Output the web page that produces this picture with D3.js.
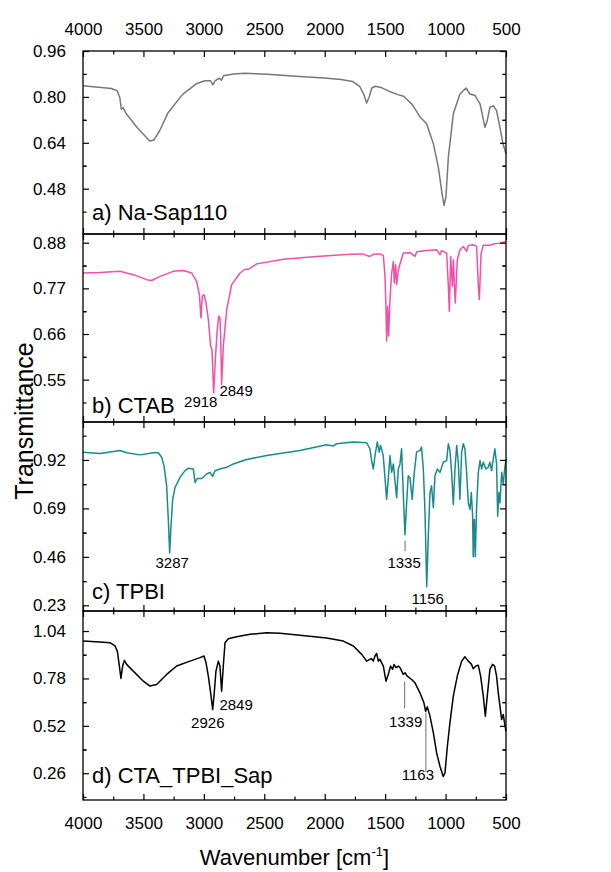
<!DOCTYPE html>
<html>
<head>
<meta charset="utf-8">
<script src="https://cdn.jsdelivr.net/npm/d3@7"></script>
<style>
  body { margin: 0; background: #fff; }
  text { font-family: Arial, "Liberation Sans", sans-serif; fill: #000; }
</style>
</head>
<body>
<svg id="chart" width="611" height="872"></svg>
<script>
// ---- data ----
const xTicks = [4000, 3500, 3000, 2500, 2000, 1500, 1000, 500];

// a) Na-Sap110
const naSapWn = [4000,3765,3718,3695,3683,3667,3648,3554,3448,3413,3366,3296,3178,3061,2991,2944,2925,2908,2873,2854,2838,2756,2662,2474,2239,2005,1864,1770,1711,1676,1653,1634,1610,1582,1535,1465,1394,1347,1277,1207,1157,1101,1060,1033,1013,997,977,936,881,831,798,757,715,674,655,633,605,578,550,528,500];
const naSapT  = [0.839,0.829,0.822,0.797,0.757,0.762,0.745,0.694,0.646,0.650,0.682,0.745,0.808,0.846,0.856,0.856,0.842,0.856,0.865,0.858,0.874,0.880,0.882,0.879,0.872,0.866,0.861,0.854,0.837,0.808,0.779,0.797,0.831,0.837,0.833,0.819,0.808,0.802,0.774,0.728,0.706,0.637,0.555,0.474,0.422,0.451,0.590,0.741,0.810,0.831,0.810,0.805,0.776,0.694,0.718,0.764,0.769,0.752,0.694,0.642,0.602];

// b) CTAB
const ctabWn = [4000,3859,3694,3584,3473,3432,3363,3253,3170,3101,3060,3037,3024,3013,2999,2982,2963,2944,2933,2919,2905,2889,2878,2867,2861,2853,2839,2811,2770,2701,2660,2632,2563,2343,2067,1791,1681,1653,1626,1598,1543,1515,1501,1493,1488,1479,1471,1460,1446,1432,1424,1413,1405,1391,1350,1295,1253,1239,1157,1074,1046,1033,991,977,969,958,944,936,920,903,881,853,826,812,771,743,729,721,706,688,633,605,550,500];
const ctabT  = [0.807,0.808,0.811,0.803,0.791,0.789,0.799,0.811,0.813,0.807,0.787,0.755,0.699,0.751,0.755,0.735,0.695,0.631,0.622,0.518,0.599,0.671,0.703,0.699,0.655,0.538,0.631,0.719,0.779,0.807,0.816,0.816,0.829,0.840,0.847,0.852,0.853,0.849,0.847,0.852,0.853,0.849,0.799,0.719,0.643,0.727,0.655,0.743,0.807,0.835,0.783,0.827,0.779,0.815,0.855,0.856,0.847,0.858,0.861,0.863,0.851,0.861,0.855,0.775,0.715,0.847,0.775,0.839,0.735,0.839,0.863,0.871,0.859,0.873,0.875,0.871,0.775,0.743,0.855,0.874,0.874,0.877,0.879,0.883];

// c) TPBI
const tpbiWn = [4000,3859,3749,3694,3639,3528,3418,3377,3349,3330,3308,3294,3283,3272,3258,3239,3197,3156,3129,3087,3073,3054,3018,2977,2949,2927,2908,2867,2811,2756,2646,2480,2205,1984,1929,1901,1763,1653,1626,1612,1598,1584,1565,1549,1538,1516,1496,1488,1474,1460,1446,1432,1405,1391,1377,1364,1350,1336,1322,1309,1295,1276,1259,1240,1212,1199,1184,1170,1156,1143,1129,1116,1101,1088,1068,1046,1019,991,977,964,950,936,922,908,895,881,867,853,840,826,812,798,787,776,771,762,754,743,729,715,702,688,666,647,633,619,605,592,578,569,558,550,536,523,514,500];
const tpbiT  = [0.957,0.950,0.960,0.965,0.954,0.944,0.954,0.954,0.933,0.893,0.797,0.637,0.478,0.605,0.733,0.789,0.837,0.869,0.880,0.877,0.813,0.832,0.832,0.853,0.861,0.842,0.869,0.877,0.885,0.901,0.922,0.941,0.965,0.992,0.986,0.997,1.005,1.001,0.973,0.917,0.877,0.941,1.005,0.957,0.989,0.941,0.797,0.733,0.829,0.941,0.861,0.901,0.741,0.877,0.901,0.973,0.765,0.565,0.717,0.845,0.837,0.733,0.861,0.957,0.965,0.981,0.877,0.669,0.318,0.557,0.765,0.797,0.693,0.845,0.877,0.861,0.909,0.917,0.997,0.965,0.861,0.709,0.877,0.989,0.909,0.733,0.957,0.997,0.973,0.861,0.717,0.685,0.765,0.653,0.461,0.637,0.461,0.701,0.861,0.917,0.877,0.909,0.877,0.885,0.909,0.869,0.925,0.973,0.901,0.653,0.765,0.717,0.861,0.805,0.861,0.925];

// d) CTA_TPBI_Sap
const ctaSapWn = [4000,3859,3777,3735,3716,3699,3686,3672,3658,3639,3584,3501,3446,3391,3308,3225,3115,3032,2999,2982,2963,2944,2927,2914,2900,2880,2867,2853,2839,2825,2798,2729,2618,2480,2370,2205,1984,1846,1763,1694,1653,1626,1612,1598,1584,1570,1557,1543,1515,1493,1474,1455,1438,1427,1410,1391,1377,1350,1336,1317,1281,1253,1212,1179,1165,1151,1129,1101,1074,1046,1019,1005,985,964,936,903,867,840,812,785,771,749,729,710,688,671,655,633,611,594,578,564,550,536,523,512,500];
const ctaSapT  = [0.985,0.980,0.976,0.958,0.930,0.848,0.780,0.848,0.879,0.857,0.820,0.765,0.738,0.747,0.802,0.848,0.875,0.894,0.903,0.866,0.793,0.701,0.609,0.701,0.820,0.875,0.848,0.710,0.848,0.976,0.998,1.009,1.022,1.031,1.028,1.017,1.002,0.985,0.958,0.912,0.875,0.885,0.888,0.875,0.903,0.918,0.875,0.885,0.848,0.765,0.802,0.848,0.830,0.857,0.839,0.848,0.839,0.802,0.811,0.793,0.774,0.756,0.701,0.646,0.600,0.624,0.573,0.481,0.371,0.297,0.242,0.261,0.408,0.536,0.683,0.793,0.875,0.899,0.875,0.857,0.833,0.848,0.852,0.793,0.683,0.573,0.683,0.830,0.857,0.848,0.793,0.701,0.628,0.554,0.582,0.536,0.490];

// peak labels: wavenumber, text baseline (transmittance), x shift, optional leader line [from,to]
const ctabPeaks   = [{wn:2918, ty:0.483, dx:-13}, {wn:2849, ty:0.510, dx:14}];
const tpbiPeaks   = [{wn:3287, ty:0.407, dx:3}, {wn:1335, ty:0.405, dx:-1, line:[0.538,0.486]}, {wn:1156, ty:0.235, dx:1}];
const ctaSapPeaks = [{wn:2926, ty:0.510, dx:-5}, {wn:2849, ty:0.609, dx:14}, {wn:1339, ty:0.516, dx:1, line:[0.763,0.615]}, {wn:1163, ty:0.224, dx:-8, line:[0.593,0.268]}];

// ---- layout ----
const left = 83, right = 506;

const panels = [
  {label:'a) Na-Sap110',     wn:naSapWn,  t:naSapT,  color:'#787878', top:51,  bottom:234, domain:[0.322,0.96], ticks:[0.48,0.64,0.80,0.96], step:0.16, labelUp:14, peaks:[]},
  {label:'b) CTAB',          wn:ctabWn,   t:ctabT,   color:'#f050a8', top:234, bottom:422, domain:[0.448,0.901], ticks:[0.55,0.66,0.77,0.88], step:0.11, labelUp:9,  peaks:ctabPeaks},
  {label:'c) TPBI',          wn:tpbiWn,   t:tpbiT,   color:'#1a8a8c', top:422, bottom:611, domain:[0.203,1.10],  ticks:[0.23,0.46,0.69,0.92], step:0.23, labelUp:12, peaks:tpbiPeaks},
  {label:'d) CTA_TPBI_Sap',  wn:ctaSapWn, t:ctaSapT, color:'#000000', top:611, bottom:800, domain:[0.113,1.15],  ticks:[0.26,0.52,0.78,1.04], step:0.26, labelUp:17, peaks:ctaSapPeaks}
];

const svg = d3.select('#chart');

const x = d3.scaleLinear().domain([4000, 500]).range([left, right]);
const xMinor = d3.range(3750, 500, -500);

panels.forEach((p, i) => {
  const y = d3.scaleLinear().domain(p.domain).range([p.bottom, p.top]);
  const g = svg.append('g');

  const yMinor = [];
  p.ticks.forEach(v => { yMinor.push(v - p.step/2, v + p.step/2); });
  const yMinorIn = yMinor.filter(v => v > p.domain[0] && v < p.domain[1] && !p.ticks.some(t => Math.abs(t - v) < 1e-6));

  // spectrum
  const pts = p.wn.map((w, k) => [w, p.t[k]]);
  g.append('path')
    .datum(pts)
    .attr('fill', 'none')
    .attr('stroke', p.color)
    .attr('stroke-width', 1.5)
    .attr('stroke-linejoin', 'round')
    .attr('d', d3.line().x(d => x(d[0])).y(d => y(d[1])));

  // frame
  g.append('rect')
    .attr('x', left).attr('y', p.top)
    .attr('width', right - left).attr('height', p.bottom - p.top)
    .attr('fill', 'none').attr('stroke', '#000').attr('stroke-width', 1.3);

  // y ticks (inward on both sides)
  const yl = g.append('g').attr('transform', `translate(${left},0)`)
    .call(d3.axisLeft(y).tickValues(p.ticks).tickSize(-6).tickPadding(17).tickFormat(d3.format('.2f')));
  yl.select('.domain').remove();
  yl.selectAll('text').style('font-size', '17px').attr('fill', '#000');
  g.append('g').attr('transform', `translate(${left},0)`)
    .call(d3.axisLeft(y).tickValues(yMinorIn).tickSize(-3.5).tickFormat(''))
    .select('.domain').remove();

  g.append('g').attr('transform', `translate(${right},0)`)
    .call(d3.axisRight(y).tickValues(p.ticks).tickSize(-6).tickFormat(''))
    .select('.domain').remove();
  g.append('g').attr('transform', `translate(${right},0)`)
    .call(d3.axisRight(y).tickValues(yMinorIn).tickSize(-3.5).tickFormat(''))
    .select('.domain').remove();

  // x ticks on top and bottom of every panel (inward)
  const xt = g.append('g').attr('transform', `translate(0,${p.top})`)
    .call(d3.axisTop(x).tickValues(xTicks).tickSize(-6).tickPadding(16).tickFormat(i === 0 ? d3.format('d') : ''));
  xt.select('.domain').remove();
  xt.selectAll('text').style('font-size', '17px').attr('fill', '#000');
  g.append('g').attr('transform', `translate(0,${p.top})`)
    .call(d3.axisTop(x).tickValues(xMinor).tickSize(-3.5).tickFormat(''))
    .select('.domain').remove();

  const xb = g.append('g').attr('transform', `translate(0,${p.bottom})`)
    .call(d3.axisBottom(x).tickValues(xTicks).tickSize(-6).tickPadding(17).tickFormat(i === panels.length - 1 ? d3.format('d') : ''));
  xb.select('.domain').remove();
  xb.selectAll('text').style('font-size', '17px').attr('fill', '#000');
  g.append('g').attr('transform', `translate(0,${p.bottom})`)
    .call(d3.axisBottom(x).tickValues(xMinor).tickSize(-3.5).tickFormat(''))
    .select('.domain').remove();

  g.selectAll('.tick line').attr('stroke', '#000').attr('stroke-width', 1.2);

  // panel label
  g.append('text')
    .attr('x', left + 9)
    .attr('y', p.bottom - p.labelUp)
    .style('font-size', '22px')
    .text(p.label);

  // peak annotations
  g.selectAll('line.lead')
    .data(p.peaks.filter(d => d.line))
    .enter().append('line')
    .attr('class', 'lead')
    .attr('x1', d => x(d.wn)).attr('x2', d => x(d.wn))
    .attr('y1', d => y(d.line[0])).attr('y2', d => y(d.line[1]))
    .attr('stroke', '#888').attr('stroke-width', 1.2);

  g.selectAll('text.peak')
    .data(p.peaks)
    .enter().append('text')
    .attr('class', 'peak')
    .attr('x', d => x(d.wn) + d.dx)
    .attr('y', d => y(d.ty))
    .attr('text-anchor', 'middle')
    .style('font-size', '15px')
    .text(d => d.wn);
});

// axis titles
svg.append('text')
  .attr('x', (left + right) / 2)
  .attr('y', 865)
  .attr('text-anchor', 'middle')
  .style('font-size', '22px')
  .html('Wavenumber [cm<tspan dy="-9" font-size="13px">-1</tspan><tspan dy="9">]</tspan>');

svg.append('text')
  .attr('transform', 'translate(33,421) rotate(-90)')
  .attr('text-anchor', 'middle')
  .style('font-size', '25px')
  .text('Transmittance');
</script>
</body>
</html>
